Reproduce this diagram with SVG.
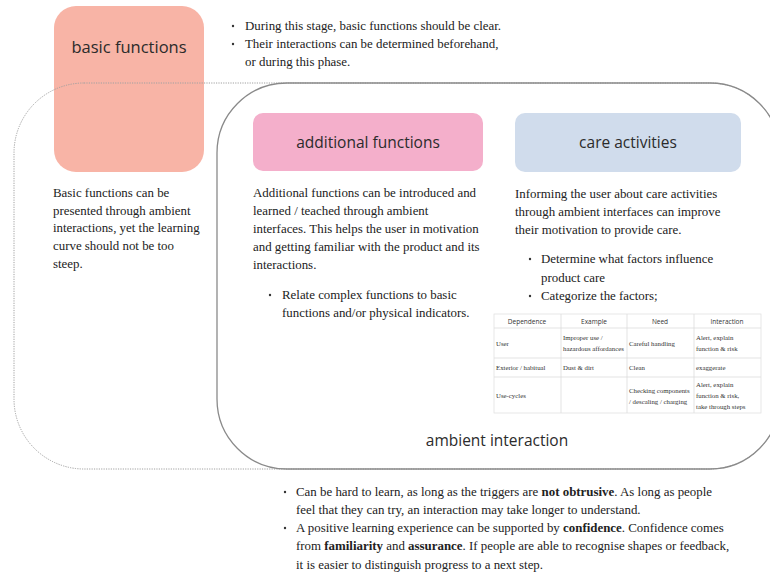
<svg xmlns="http://www.w3.org/2000/svg" width="770" height="576" viewBox="0 0 770 576">
  <style>
    .title { font-family: "Open Sans", "Noto Sans", sans-serif; fill: #2b2b2b; text-anchor: middle; }
    .body { font-family: "Liberation Serif", serif; font-size: 12.9px; fill: #222; }
    .th { font-family: "Open Sans", "Noto Sans", sans-serif; font-size: 6.5px; fill: #333; text-anchor: middle; }
    .td { font-family: "Liberation Serif", serif; font-size: 6.8px; fill: #333; }
    .grid { stroke: #dcdcdc; stroke-width: 0.8; fill: none; }
    .dot { fill: #333; }
  </style>

  <rect width="770" height="576" fill="#ffffff"/>

  <!-- basic functions node -->
  <g id="basic-functions">
    <rect x="54" y="6" width="150" height="166" rx="22" fill="#f8b4a6"/>
    <text class="title" x="129" y="53" font-size="16.5">basic functions</text>
  </g>

  <!-- phase outlines -->
  <g id="connectors">
    <rect x="14" y="83" width="766" height="386" rx="70" fill="none" stroke="#a0a0a0" stroke-width="1" stroke-dasharray="1.2 1.2"/>
    <rect x="217" y="83" width="563" height="386" rx="70" fill="none" stroke="#8a8a8a" stroke-width="1.3"/>
  </g>

  <!-- notes on basic functions -->
  <g id="basic-notes" class="body">
    <circle class="dot" cx="233" cy="26" r="1.2"/>
    <text x="245" y="30">During this stage, basic functions should be clear.</text>
    <circle class="dot" cx="233" cy="44" r="1.2"/>
    <text x="245" y="48">Their interactions can be determined beforehand,</text>
    <text x="245" y="66">or during this phase.</text>
    <text x="53" y="197">Basic functions can be</text>
    <text x="53" y="215">presented through ambient</text>
    <text x="53" y="232">interactions, yet the learning</text>
    <text x="53" y="250">curve should not be too</text>
    <text x="53" y="268">steep.</text>
  </g>

  <!-- additional functions node -->
  <g id="additional-functions">
    <rect x="253" y="113" width="230" height="58" rx="10" fill="#f4afcb"/>
    <text class="title" x="368" y="148" font-size="15.5">additional functions</text>
    <g class="body">
      <text x="253" y="197">Additional functions can be introduced and</text>
      <text x="253" y="215">learned / teached through ambient</text>
      <text x="253" y="233">interfaces. This helps the user in motivation</text>
      <text x="253" y="251">and getting familiar with the product and its</text>
      <text x="253" y="269">interactions.</text>
      <circle class="dot" cx="270" cy="295" r="1.2"/>
      <text x="282" y="299">Relate complex functions to basic</text>
      <text x="282" y="317">functions and/or physical indicators.</text>
    </g>
  </g>

  <!-- care activities node -->
  <g id="care-activities">
    <rect x="515" y="113" width="226" height="59" rx="10" fill="#d0dcec"/>
    <text class="title" x="628" y="148" font-size="15.5">care activities</text>
    <g class="body">
      <text x="515" y="198">Informing the user about care activities</text>
      <text x="515" y="216">through ambient interfaces can improve</text>
      <text x="515" y="234">their motivation to provide care.</text>
      <circle class="dot" cx="530" cy="259" r="1.2"/>
      <text x="541" y="263">Determine what factors influence</text>
      <text x="541" y="282">product care</text>
      <circle class="dot" cx="530" cy="296" r="1.2"/>
      <text x="541" y="300">Categorize the factors;</text>
    </g>
  </g>

  <!-- care factor table -->
  <g id="care-table">
    <rect x="494" y="314" width="267" height="99" fill="#ffffff" stroke="#e2e2e2" stroke-width="0.8"/>
    <path class="grid" d="M494 328H761M494 358H761M494 377H761M561 314V413M627 314V413M694 314V413"/>
    <text class="th" x="527" y="323.5">Dependence</text>
    <text class="th" x="594" y="323.5">Example</text>
    <text class="th" x="660" y="323.5">Need</text>
    <text class="th" x="727" y="323.5">Interaction</text>
    <g class="td">
      <text x="496" y="346">User</text>
      <text x="563" y="340">Improper use /</text>
      <text x="563" y="351">hazardous affordances</text>
      <text x="629" y="346">Careful handling</text>
      <text x="696" y="340">Alert, explain</text>
      <text x="696" y="351">function &amp; risk</text>
      <text x="496" y="370">Exterior / habitual</text>
      <text x="563" y="370">Dust &amp; dirt</text>
      <text x="629" y="370">Clean</text>
      <text x="696" y="370">exaggerate</text>
      <text x="496" y="398">Use-cycles</text>
      <text x="629" y="393">Checking components</text>
      <text x="629" y="404">/ descaling / charging</text>
      <text x="696" y="387">Alert, explain</text>
      <text x="696" y="398">function &amp; risk,</text>
      <text x="696" y="409">take through steps</text>
    </g>
  </g>

  <!-- ambient interaction label -->
  <g id="ambient-interaction">
    <text class="title" x="497" y="446" font-size="15.5">ambient interaction</text>
  </g>

  <!-- notes on ambient interaction -->
  <g id="ambient-notes" class="body">
    <circle class="dot" cx="285" cy="492" r="1.2"/>
    <text x="296" y="496">Can be hard to learn, as long as the triggers are <tspan font-weight="bold">not obtrusive</tspan>. As long as people</text>
    <text x="296" y="514">feel that they can try, an interaction may take longer to understand.</text>
    <circle class="dot" cx="285" cy="528" r="1.2"/>
    <text x="296" y="532">A positive learning experience can be supported by <tspan font-weight="bold">confidence</tspan>. Confidence comes</text>
    <text x="296" y="550">from <tspan font-weight="bold">familiarity</tspan> and <tspan font-weight="bold">assurance</tspan>. If people are able to recognise shapes or feedback,</text>
    <text x="296" y="569">it is easier to distinguish progress to a next step.</text>
  </g>
</svg>
